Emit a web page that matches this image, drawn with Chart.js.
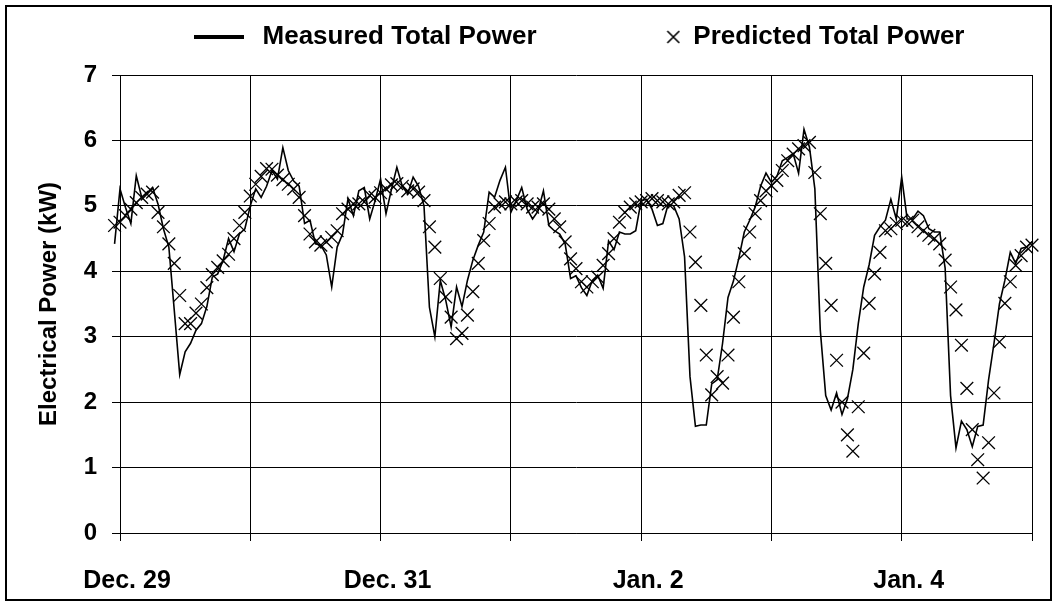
<!DOCTYPE html>
<html>
<head>
<meta charset="utf-8">
<script src="https://cdn.jsdelivr.net/npm/chart.js@4.4.0/dist/chart.umd.min.js"></script>
<style>
  html, body { margin: 0; padding: 0; background: #fff; }
  #wrap { position: relative; width: 1057px; height: 606px; }
  #frame { position: absolute; left: 5px; top: 5px; width: 1043px; height: 592px; border: 2px solid #000; pointer-events: none; }
  canvas { position: absolute; left: 0; top: 0; }
</style>
</head>
<body>
<div id="wrap">
  <canvas id="power" width="1057" height="606"></canvas>
  <div id="frame"></div>
</div>
<script>
// hourly readings, first one is one hour before midnight Dec. 28/29
var startHour = -1;

var measuredKW = [
  4.42, 5.26, 4.98, 4.73, 5.46, 5.13, 5.2, 5.28, 5.03, 4.65, 4.37, 3.4, 2.42, 2.77, 2.9, 3.1, 3.2, 3.46, 3.91, 3.96, 4.17, 4.5, 4.3, 4.57, 4.65,
  5.0, 5.26, 5.13, 5.3, 5.54, 5.41, 5.89, 5.54, 5.38, 5.3, 4.73, 4.78, 4.42, 4.4, 4.25, 3.76, 4.37, 4.57, 5.11, 4.85, 5.23, 5.28, 4.8, 5.08,
  5.41, 4.88, 5.25, 5.59, 5.3, 5.18, 5.44, 5.3, 5.0, 3.45, 3.0, 3.86, 3.56, 3.15, 3.76, 3.46, 3.86, 4.17, 4.4, 4.6, 5.21, 5.13, 5.39, 5.59,
  4.9, 5.08, 5.28, 4.95, 4.8, 4.92, 5.23, 4.7, 4.62, 4.57, 4.42, 3.89, 3.93, 3.75, 3.63, 3.86, 3.94, 3.74, 4.46, 4.33, 4.6, 4.57, 4.57, 4.62,
  5.08, 5.1, 4.95, 4.7, 4.73, 5.03, 5.0, 4.8, 4.22, 2.39, 1.63, 1.65, 1.65, 2.28, 2.34, 2.9, 3.6, 3.85, 4.2, 4.6, 4.78, 4.98, 5.3, 5.5,
  5.36, 5.45, 5.69, 5.74, 5.8, 5.5, 6.17, 5.9, 5.26, 3.1, 2.1, 1.88, 2.14, 1.81, 2.05, 2.5, 3.2, 3.76, 4.1, 4.55, 4.68, 4.78, 5.1, 4.8,
  5.44, 4.8, 4.8, 4.92, 4.85, 4.65, 4.6, 4.6, 4.05, 2.1, 1.3, 1.71, 1.58, 1.32, 1.63, 1.65, 2.34, 2.9, 3.5, 3.86, 4.29, 4.12, 4.35, 4.37, 4.45
];

var predictedKW = [
  4.7, 4.75, 4.85, 4.95, 5.05, 5.13, 5.18, 5.21, 4.9, 4.68, 4.42, 4.12, 3.63, 3.2, 3.2, 3.36, 3.5, 3.75, 3.95, 4.06, 4.16, 4.26, 4.5, 4.7, 4.9,
  5.15, 5.33, 5.45, 5.57, 5.56, 5.47, 5.4, 5.33, 5.26, 5.13, 4.85, 4.57, 4.45, 4.4, 4.45, 4.52, 4.62, 4.88, 4.95, 5.03, 5.03, 5.06, 5.16, 5.13,
  5.2, 5.26, 5.32, 5.34, 5.3, 5.23, 5.26, 5.21, 5.08, 4.68, 4.37, 3.89, 3.61, 3.3, 2.97, 3.05, 3.33, 3.69, 4.12, 4.47, 4.73, 4.98, 5.03, 5.06,
  5.03, 5.06, 5.08, 5.03, 4.98, 4.98, 5.03, 4.95, 4.8, 4.68, 4.45, 4.19, 4.04, 3.84, 3.76, 3.84, 3.91, 4.09, 4.27, 4.5, 4.75, 4.9, 4.98, 5.03,
  5.06, 5.08, 5.11, 5.08, 5.06, 5.03, 5.06, 5.16, 5.2, 4.6, 4.14, 3.48, 2.72, 2.11, 2.39, 2.29, 2.72, 3.3, 3.84, 4.27, 4.6, 4.88, 5.08, 5.23,
  5.31, 5.39, 5.54, 5.69, 5.79, 5.87, 5.92, 5.97, 5.51, 4.88, 4.12, 3.48, 2.64, 2.0, 1.5, 1.25, 1.93, 2.75, 3.51, 3.96, 4.29, 4.62, 4.65, 4.73,
  4.78, 4.75, 4.78, 4.68, 4.62, 4.55, 4.5, 4.42, 4.17, 3.76, 3.41, 2.87, 2.21, 1.58, 1.12, 0.84, 1.38, 2.14, 2.92, 3.51, 3.84, 4.09, 4.24, 4.37, 4.4
];

// one label per day gridline, only every second day is written
var dayLabels = ['Dec. 29', '', 'Dec. 31', '', 'Jan. 2', '', 'Jan. 4', ''];
var seriesNames = ['Measured Total Power', 'Predicted Total Power'];

var hours = measuredKW.map(function (v, i) { return startHour + i; });

function toPoints(values) {
    return values.map(function (v, i) { return {x: hours[i], y: v}; });
}

// legend symbols (drawn centred in a 62px legend box)
function legendLine() {
    var c = document.createElement('canvas');
    c.width = 50; c.height = 4;
    var g = c.getContext('2d');
    g.fillStyle = '#000';
    g.fillRect(0, 0, 50, 4);
    return c;
}
function legendCross() {
    var c = document.createElement('canvas');
    c.width = 62; c.height = 14;
    var g = c.getContext('2d');
    g.strokeStyle = '#000';
    g.lineWidth = 1.6;
    g.beginPath();
    g.moveTo(49, 1); g.lineTo(61, 13);
    g.moveTo(61, 1); g.lineTo(49, 13);
    g.stroke();
    return c;
}
var lineSymbol = legendLine();
var crossSymbol = legendCross();

Chart.defaults.font.family = "'Liberation Sans', Arial, sans-serif";
Chart.defaults.font.weight = 'bold';
Chart.defaults.color = '#000';

var ctx = document.getElementById('power').getContext('2d');
var chart = new Chart(ctx, {
    type: 'line',
    data: {
        datasets: [{
            label: seriesNames[0],
            data: toPoints(measuredKW),
            borderColor: '#000',
            borderWidth: 1.6,
            pointRadius: 0,
            tension: 0,
            clip: false
        }, {
            label: seriesNames[1],
            data: toPoints(predictedKW),
            showLine: false,
            pointStyle: 'crossRot',
            pointRadius: 9,
            pointBorderColor: '#000',
            pointBorderWidth: 1.3,
            borderColor: '#000',
            clip: false
        }]
    },
    options: {
        responsive: false,
        animation: false,
        layout: {
            padding: {left: 0, right: 24, top: 0, bottom: 0}
        },
        plugins: {
            tooltip: {enabled: false},
            legend: {
                position: 'top',
                fullSize: false,
                labels: {
                    usePointStyle: true,
                    pointStyleWidth: 62,
                    padding: 24,
                    color: '#000',
                    font: {size: 26, weight: 'bold'},
                    generateLabels: function () {
                        return [{
                            text: seriesNames[0] + '        ',
                            pointStyle: lineSymbol,
                            fillStyle: '#000', strokeStyle: '#000', lineWidth: 0,
                            hidden: false, datasetIndex: 0, fontColor: '#000'
                        }, {
                            text: seriesNames[1],
                            pointStyle: crossSymbol,
                            fillStyle: '#000', strokeStyle: '#000', lineWidth: 0,
                            hidden: false, datasetIndex: 1, fontColor: '#000'
                        }];
                    }
                }
            }
        },
        scales: {
            x: {
                type: 'linear',
                min: 0,
                max: 168,
                afterFit: function (s) { s.height = 73; },
                ticks: {
                    stepSize: 24,
                    autoSkip: false,
                    maxRotation: 0,
                    padding: 25,
                    labelOffset: 7,
                    color: '#000',
                    font: {size: 25, weight: 'bold'},
                    callback: function (v) { return dayLabels[v / 24] || ''; }
                },
                grid: {color: '#000', lineWidth: 1, tickLength: 8},
                border: {color: '#000', width: 1}
            },
            xTop: {
                type: 'linear',
                position: 'top',
                min: 0,
                max: 168,
                afterFit: function (s) { s.height = 15; },
                grid: {display: false},
                ticks: {display: false},
                border: {display: false}
            },
            y: {
                min: 0,
                max: 7,
                afterFit: function (s) { s.width = 120; },
                ticks: {
                    stepSize: 1,
                    padding: 15,
                    color: '#000',
                    font: {size: 24, weight: 'bold'}
                },
                grid: {color: '#000', lineWidth: 1, tickLength: 8},
                border: {color: '#000', width: 1},
                title: {
                    display: true,
                    text: 'Electrical Power (kW)',
                    color: '#000',
                    font: {size: 24, weight: 'bold'},
                    padding: {top: 35, bottom: 0}
                }
            }
        }
    }
});
</script>
</body>
</html>
